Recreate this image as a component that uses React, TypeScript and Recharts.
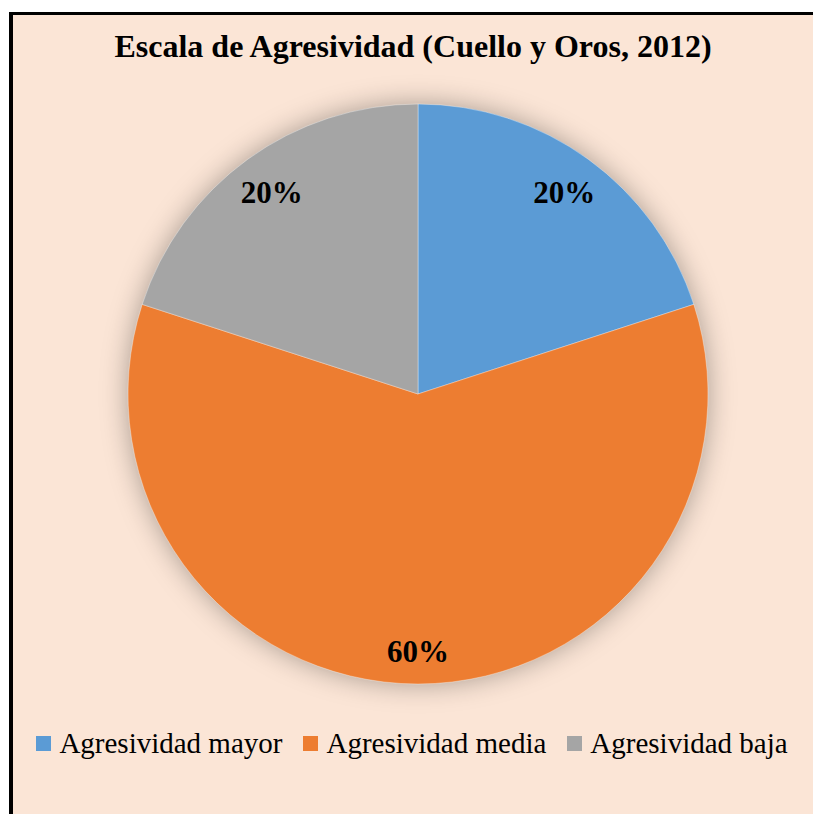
import { Cell, Legend, Pie, PieChart } from "recharts";

const categories = ["Agresividad mayor", "Agresividad media", "Agresividad baja"];
const shares = [20, 60, 20];
const colors = ["#5B9BD5", "#ED7D31", "#A5A5A5"];
const title = "Escala de Agresividad (Cuello y Oros, 2012)";

const data = categories.map((name, i) => ({ name, value: shares[i] }));
const backdrop = [{ name: "backdrop", value: 1 }];

const FONT = "'Times New Roman', 'Liberation Serif', Times, serif";
const RAD = Math.PI / 180;

function renderLabel(props: any) {
  const { cx, cy, midAngle, outerRadius, value } = props;
  const rad = -midAngle * RAD;
  // inside-end placement, a bit deeper on the diagonal slices
  const r = outerRadius - 33 - 42 * (1 - Math.abs(Math.sin(rad)));
  const x = cx + r * Math.cos(rad);
  const y = cy + r * Math.sin(rad);
  return (
    <text
      x={x}
      y={y}
      textAnchor="middle"
      dominantBaseline="central"
      fill="#000"
      fontFamily={FONT}
      fontWeight="bold"
      fontSize={31}
    >
      {`${value}%`}
    </text>
  );
}

function LegendContent() {
  return (
    <div
      style={{
        display: "flex",
        justifyContent: "center",
        gap: 21,
        fontFamily: FONT,
        fontSize: 29,
        lineHeight: "29px",
        color: "#000",
      }}
    >
      {categories.map((name, i) => (
        <div key={name} style={{ display: "flex", alignItems: "flex-start" }}>
          <span
            style={{
              display: "inline-block",
              width: 15,
              height: 15,
              background: colors[i],
              marginTop: 7,
              marginRight: 8,
            }}
          />
          <span>{name}</span>
        </div>
      ))}
    </div>
  );
}

export default function App() {
  return (
    <div
      style={{
        position: "absolute",
        left: 0,
        top: 0,
        width: 813,
        height: 814,
        overflow: "hidden",
        background: "#fff",
      }}
    >
      <div
        style={{
          position: "absolute",
          left: 9,
          top: 12,
          width: 900,
          height: 900,
          background: "#FBE5D6",
          borderLeft: "4px solid #000",
          borderTop: "3px solid #000",
          boxSizing: "border-box",
        }}
      />
      <div
        style={{
          position: "absolute",
          left: 0,
          top: 30,
          width: 826,
          textAlign: "center",
          fontFamily: FONT,
          fontWeight: "bold",
          fontSize: 32,
          lineHeight: "32px",
          color: "#000",
        }}
      >
        {title}
      </div>
      <div style={{ position: "absolute", left: 0, top: 0 }}>
        <PieChart width={813} height={814} margin={{ top: 0, right: 0, bottom: 0, left: 0 }}>
          <Pie
            data={backdrop}
            dataKey="value"
            cx={418}
            cy={394}
            outerRadius={289}
            startAngle={90}
            endAngle={-270}
            stroke="none"
            isAnimationActive={false}
          >
            <Cell
              fill="#ED7D31"
              style={{ filter: "drop-shadow(0 0 14px rgba(0,0,0,0.35))" }}
            />
          </Pie>
          <Pie
            data={data}
            dataKey="value"
            nameKey="name"
            cx={418}
            cy={394}
            outerRadius={290}
            startAngle={90}
            endAngle={-270}
            stroke="rgba(255,255,255,0.35)"
            strokeWidth={1}
            label={renderLabel}
            labelLine={false}
            isAnimationActive={false}
          >
            {data.map((d, i) => (
              <Cell key={d.name} fill={colors[i]} />
            ))}
          </Pie>
          <Legend
            content={<LegendContent />}
            wrapperStyle={{ position: "absolute", top: 729, left: 0, width: 824 }}
          />
        </PieChart>
      </div>
    </div>
  );
}
